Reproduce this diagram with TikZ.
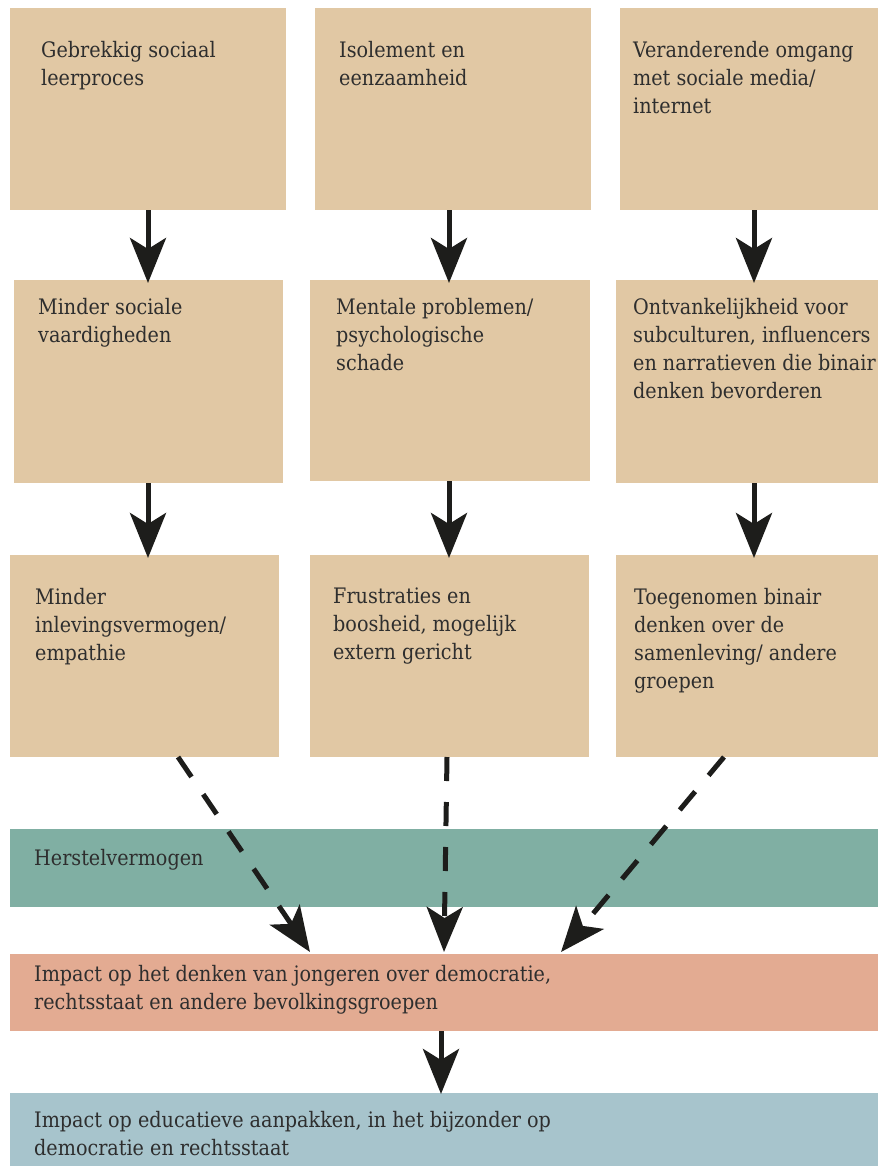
\documentclass[tikz,border=0pt]{standalone}
\usepackage{fontspec}
\setmainfont{DejaVu Serif Condensed}
\usetikzlibrary{arrows.meta}
\definecolor{tanbox}{HTML}{E1C8A4}
\definecolor{greenbar}{HTML}{80AFA3}
\definecolor{salmonbar}{HTML}{E3AB92}
\definecolor{bluebar}{HTML}{A7C4CC}
\definecolor{ink}{HTML}{1D1D1B}
\definecolor{txtcol}{HTML}{2E2E2E}
\begin{document}
\begin{tikzpicture}[x=1bp,y=-1bp,
  box/.style={fill=tanbox, draw=none, inner sep=0pt, outer sep=0pt, anchor=north west},
  bar/.style={draw=none, inner sep=0pt, outer sep=0pt, anchor=north west, minimum width=868bp},
  txt/.style={anchor=north west, inner sep=0pt, align=left, text=txtcol,
    font=\fontsize{21.4}{28}\selectfont},
  arr/.style={line width=5bp, draw=ink, -{Stealth[length=45bp,width=36bp,inset=11bp]}},
  dasharr/.style={arr, dash pattern=on 24bp off 21bp}
]
\useasboundingbox (0,0) rectangle (878,1166);

% row 1
\node[box, minimum width=276bp, minimum height=202bp] (b11) at (10,8) {};
\node[box, minimum width=276bp, minimum height=202bp] (b12) at (315,8) {};
\node[box, minimum width=258bp, minimum height=202bp] (b13) at (620,8) {};
% row 2
\node[box, minimum width=269bp, minimum height=203bp] (b21) at (14,280) {};
\node[box, minimum width=280bp, minimum height=201bp] (b22) at (310,280) {};
\node[box, minimum width=262bp, minimum height=203bp] (b23) at (616,280) {};
% row 3
\node[box, minimum width=269bp, minimum height=202bp] (b31) at (10,555) {};
\node[box, minimum width=279bp, minimum height=202bp] (b32) at (310,555) {};
\node[box, minimum width=262bp, minimum height=202bp] (b33) at (616,555) {};
% bars
\node[bar, fill=greenbar, minimum height=78bp] (herst) at (10,829) {};
\node[bar, fill=salmonbar, minimum height=77bp] (imp1) at (10,954) {};
\node[bar, fill=bluebar, minimum height=73bp] (imp2) at (10,1093) {};

% texts
\node[txt] (t11) at (41,41) {Gebrekkig sociaal\\leerproces};
\node[txt] (t12) at (339,41) {Isolement en\\eenzaamheid};
\node[txt] (t13) at (633,41) {Veranderende omgang\\met sociale media/\\internet};
\node[txt] (t21) at (38,298) {Minder sociale\\vaardigheden};
\node[txt] (t22) at (336,298) {Mentale problemen/\\psychologische\\schade};
\node[txt] (t23) at (633,298) {Ontvankelijkheid voor\\subculturen, influencers\\en narratieven die binair\\denken bevorderen};
\node[txt] (t31) at (35,588) {Minder\\inlevingsvermogen/\\empathie};
\node[txt] (t32) at (333,588) {Frustraties en\\boosheid, mogelijk\\extern gericht};
\node[txt] (t33) at (634,588) {Toegenomen binair\\denken over de\\samenleving/ andere\\groepen};
\node[txt] (th) at (34,849) {Herstelvermogen};
\node[txt] (ti1) at (34,965) {Impact op het denken van jongeren over democratie,\\rechtsstaat en andere bevolkingsgroepen};
\node[txt] (ti2) at (34,1111) {Impact op educatieve aanpakken, in het bijzonder op\\democratie en rechtsstaat};

% column coordinates
\coordinate (c1) at (148,0);
\coordinate (c2) at (449,0);
\coordinate (c3) at (754,0);
\coordinate (c4) at (441,0);

\draw[arr] (b11.south -| c1) -- ([yshift=-3bp]b21.north -| c1);
\draw[arr] (b12.south -| c2) -- ([yshift=-3bp]b22.north -| c2);
\draw[arr] (b13.south -| c3) -- ([yshift=-3bp]b23.north -| c3);
\draw[arr] (b21.south -| c1) -- ([yshift=-3bp]b31.north -| c1);
\draw[arr] (b22.south -| c2) -- ([yshift=-3bp]b32.north -| c2);
\draw[arr] (b23.south -| c3) -- ([yshift=-3bp]b33.north -| c3);

% dashed arrows
\coordinate (s1) at (178,757);
\coordinate (e1) at (310,952);
\coordinate (s2) at (447,757);
\coordinate (e2) at (444,952);
\coordinate (s3) at (724,757);
\coordinate (e3) at (561,952);
\draw[dasharr] (s1) -- (e1);
\draw[dasharr] (s2) -- (e2);
\draw[dasharr] (s3) -- (e3);

\draw[arr] (imp1.south -| c4) -- ([yshift=-1bp]imp2.north -| c4);
\end{tikzpicture}
\end{document}
